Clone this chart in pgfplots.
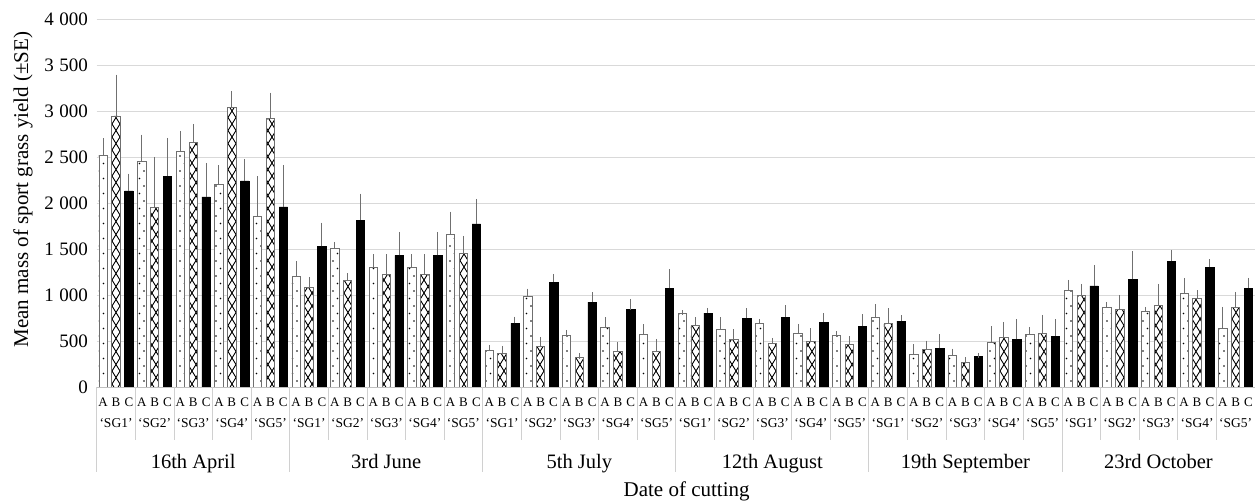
\documentclass[border=0pt]{standalone}
\usepackage{fontspec}
\setmainfont{Liberation Serif}
\usepackage{pgfplots}
\pgfplotsset{compat=1.18}
\usepackage{pgfplotstable}
\usetikzlibrary{patterns}

\definecolor{gridgray}{HTML}{D9D9D9}
\definecolor{sepgray}{HTML}{D0D0D0}
\definecolor{axisgray}{HTML}{BFBFBF}
\definecolor{errgray}{HTML}{707070}
\definecolor{outlinegray}{HTML}{6F6F6F}

% sparse staggered dots (treatment A)
\pgfdeclarepatternformonly{sparsedots}{\pgfqpoint{-1pt}{-1pt}}{\pgfqpoint{6pt}{9pt}}{\pgfqpoint{9pt}{15pt}}{%
  \pgfpathcircle{\pgfqpoint{0pt}{0pt}}{0.95pt}%
  \pgfpathcircle{\pgfqpoint{4.5pt}{7.5pt}}{0.95pt}%
  \pgfusepath{fill}}
% chain of crosses (treatment B)
\pgfdeclarepatternformonly{xchain}{\pgfqpoint{-0.5pt}{-0.5pt}}{\pgfqpoint{8.5pt}{13.5pt}}{\pgfqpoint{8pt}{13pt}}{%
  \pgfsetlinewidth{0.9pt}%
  \pgfpathmoveto{\pgfqpoint{0pt}{0pt}}\pgfpathlineto{\pgfqpoint{8pt}{13pt}}%
  \pgfpathmoveto{\pgfqpoint{0pt}{13pt}}\pgfpathlineto{\pgfqpoint{8pt}{0pt}}%
  \pgfusepath{stroke}}

\newcommand\sgfont{\fontsize{13.5}{15}\selectfont}
\newcommand\datefont{\fontsize{20.5}{24}\selectfont}

% x = position (3 per cultivar group), y = mean yield, e = SE
\pgfplotstableread{
x y e
0 2522 155
3 2453 264
6 2562 195
9 2203 181
12 1851 416
15 1207 134
18 1507 44
21 1304 113
24 1304 113
27 1659 221
30 399 32
33 982 61
36 562 32
39 649 79
42 576 80
45 804 5
48 623 109
51 692 22
54 583 76
57 561 15
60 761 109
63 359 76
66 344 44
69 489 145
72 569 58
75 1054 84
78 870 29
81 826 18
84 1014 146
87 641 203
}\dataA

\pgfplotstableread{
x y e
1 2949 421
4 1949 526
7 2663 170
10 3040 152
13 2920 254
16 1083 87
19 1159 48
22 1225 192
25 1225 192
28 1453 163
31 366 54
34 438 80
37 326 11
40 384 76
43 391 105
46 670 62
49 518 83
52 471 36
55 500 109
58 464 58
61 696 134
64 409 66
67 268 29
70 540 141
73 583 174
76 996 98
79 848 127
82 884 210
85 964 61
88 862 145
}\dataB

\pgfplotstableread{
x y e
2 2134 159
5 2293 388
8 2069 340
11 2243 210
14 1960 428
17 1529 232
20 1815 261
23 1431 228
26 1431 228
29 1775 243
32 692 44
35 1141 62
38 924 76
41 841 90
44 1072 178
47 804 29
50 750 76
53 761 101
56 707 65
59 663 101
62 717 37
65 420 123
68 337 7
71 518 189
74 554 153
77 1101 200
80 1170 276
83 1370 94
86 1304 58
89 1076 84
}\dataC

\begin{document}
\begin{tikzpicture}
\useasboundingbox (-96.7pt,-114pt) rectangle (1159.3pt,387pt);
\begin{axis}[
  at={(0pt,0pt)}, anchor=south west,
  scale only axis, width=1158.3pt, height=367.7pt,
  xmin=-0.5, xmax=89.5, ymin=0, ymax=4000,
  enlargelimits=false, clip=false,
  axis line style={draw=none},
  major tick length=0pt, tick style={draw=none},
  ytick={0,500,...,4000},
  ymajorgrids, grid style={gridgray, line width=0.9pt},
  yticklabel style={anchor=east, inner sep=0pt, xshift=-8.7pt, font=\fontsize{19}{22}\selectfont},
  /pgf/number format/assume math mode=true,
  /pgf/number format/1000 sep={\hspace{0.28em}},
  xtick={0,...,89},
  xticklabel={\pgfmathparse{int(mod(round(\tick),3))}\ifcase\pgfmathresult A\or B\or C\fi},
  xticklabel style={anchor=base, inner sep=0pt, yshift=-19.5pt, font=\fontsize{13}{15}\selectfont},
  ybar, bar width=8.4pt,
]
\addplot[ybar, bar shift=0pt, fill=white, draw=outlinegray, line width=0.8pt,
  postaction={pattern=sparsedots, pattern color=black},
  error bars/.cd, y dir=plus, y explicit,
  error bar style={errgray, line width=1pt},
  error mark options={errgray, line width=1pt, mark size=2.6pt}]
  table[x=x, y=y, y error=e] {\dataA};
\addplot[ybar, bar shift=0pt, fill=white, draw=outlinegray, line width=0.8pt,
  postaction={pattern=xchain, pattern color=black},
  error bars/.cd, y dir=plus, y explicit,
  error bar style={errgray, line width=1pt},
  error mark options={errgray, line width=1pt, mark size=2.6pt}]
  table[x=x, y=y, y error=e] {\dataB};
\addplot[ybar, bar shift=0pt, fill=black, draw=black, line width=0.5pt,
  error bars/.cd, y dir=plus, y explicit,
  error bar style={errgray, line width=1pt},
  error mark options={errgray, line width=1pt, mark size=2.6pt}]
  table[x=x, y=y, y error=e] {\dataC};

% category axis line
\draw[axisgray, line width=0.9pt] (axis cs:-0.5,0) -- (axis cs:89.5,0);

% cultivar labels and group separators
\pgfplotsforeachungrouped \i in {0,...,29}{%
  \pgfmathtruncatemacro\sg{mod(\i,5)+1}%
  \pgfmathsetmacro\xc{3*\i+1}%
  \pgfmathsetmacro\xs{3*\i-0.5}%
  \edef\tmp{%
    \noexpand\node[anchor=base, inner sep=0pt, yshift=-40.5pt, font=\noexpand\sgfont] at (axis cs:\xc,0) {‘SG\sg’};%
    \noexpand\draw[sepgray, line width=0.8pt] (axis cs:\xs,0) -- ++(0pt,-53pt);%
  }\tmp}

% date separators
\pgfplotsforeachungrouped \d in {0,...,5}{%
  \pgfmathsetmacro\xs{15*\d-0.5}%
  \edef\tmp{\noexpand\draw[sepgray, line width=0.8pt] (axis cs:\xs,0) -- ++(0pt,-85pt);}\tmp}

\node[anchor=base, inner sep=0pt, yshift=-81.3pt, font=\datefont] at (axis cs:7,0) {16th April};
\node[anchor=base, inner sep=0pt, yshift=-81.3pt, font=\datefont] at (axis cs:22,0) {3rd June};
\node[anchor=base, inner sep=0pt, yshift=-81.3pt, font=\datefont] at (axis cs:37,0) {5th July};
\node[anchor=base, inner sep=0pt, yshift=-81.3pt, font=\datefont] at (axis cs:52,0) {12th August};
\node[anchor=base, inner sep=0pt, yshift=-81.3pt, font=\datefont] at (axis cs:67,0) {19th September};
\node[anchor=base, inner sep=0pt, yshift=-81.3pt, font=\datefont] at (axis cs:82,0) {23rd October};

\node[anchor=base, inner sep=0pt, yshift=-109.7pt, font=\fontsize{21}{25}\selectfont] at (axis cs:45.34,0) {Date of cutting};
\end{axis}
\node[rotate=90, anchor=center, inner sep=0pt, font=\fontsize{21}{25}\selectfont] at (-73.7pt,197.5pt) {Mean mass of sport grass yield (±SE)};
\end{tikzpicture}
\end{document}
